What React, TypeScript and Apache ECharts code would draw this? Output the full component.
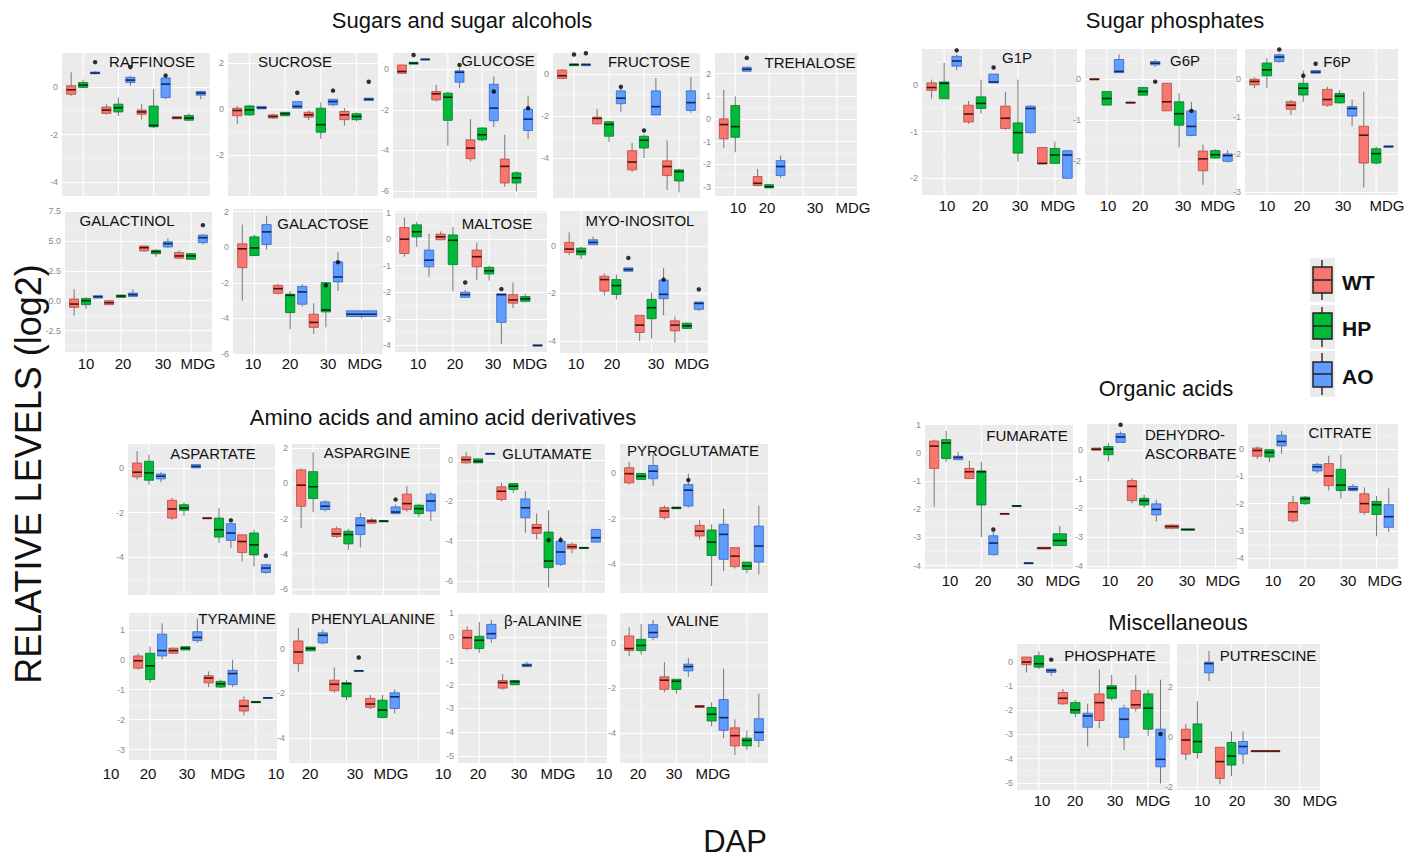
import React, { useEffect, useRef } from 'react';
import * as echarts from 'echarts';

type Box = number[] | null;

const GENOTYPES = ['WT', 'HP', 'AO'];
const STAGES = ['10', '20', '30', 'MDG'];
const COLORS = ['#F8766D', '#00BA38', '#619CFF'];
const BORDERS = ['#B24A43', '#00782A', '#3566C0'];
const MEDIANS = ['#4a1411', '#002a0c', '#13275a'];

// each metabolite: 12 boxes [low, q1, median, q3, high] ordered WT,HP,AO for 10,20,30,MDG
const raffinose: Box[] = [
  [-0.36, -0.29, -0.1, 0.07, 0.64], [-0.04, 0, 0.1, 0.21, 0.33], [0.56, 0.58, 0.61, 0.65, 0.68],
  [-1.15, -1.1, -0.96, -0.83, -0.71], [-1.21, -1.04, -0.86, -0.71, -0.43], [0.07, 0.21, 0.31, 0.43, 0.47],
  [-1.36, -1.14, -1.04, -0.96, -0.71], [-1.73, -1.67, -1.61, -0.79, -0.07], [-0.5, -0.43, 0.14, 0.4, 0.45],
  [-1.33, -1.33, -1.29, -1.24, -1.22], [-1.43, -1.39, -1.3, -1.19, -1.1], [-0.5, -0.33, -0.24, -0.17, -0.14],
];
const raffinoseOut = [[2, 1.07], [5, 0.86], [8, 0.5]];

const sucrose: Box[] = [
  [-0.64, -0.29, -0.06, 0.04, 0.14], [-0.29, -0.25, -0.03, 0.14, 0.19], [0.01, 0.01, 0.06, 0.12, 0.12],
  [-0.43, -0.39, -0.32, -0.25, -0.2], [-0.29, -0.29, -0.2, -0.14, -0.14], [0.04, 0.04, 0.12, 0.33, 0.33],
  [-0.49, -0.35, -0.25, -0.14, -0.06], [-1.3, -1.01, -0.68, 0.04, 0.29], [0.12, 0.19, 0.33, 0.43, 0.43],
  [-0.72, -0.46, -0.25, -0.1, 0.04], [-0.54, -0.46, -0.32, -0.2, -0.14], [0.36, 0.38, 0.43, 0.48, 0.48],
];
const sucroseOut = [[5, 0.72], [8, 0.81], [11, 1.2]];

const glucose: Box[] = [
  [-0.22, -0.2, -0.11, 0.21, 0.21], [0.24, 0.25, 0.3, 0.34, 0.36], [0.48, 0.48, 0.49, 0.5, 0.5],
  [-1.59, -1.51, -1.21, -1.1, -0.77], [-3.77, -2.52, -1.38, -1.18, -1.1], [-0.93, -0.64, -0.15, -0.08, 0.05],
  [-4.54, -4.41, -3.89, -3.48, -2.46], [-3.56, -3.48, -3.23, -2.9, -2.85], [-2.85, -2.54, -1.92, -0.74, -0.36],
  [-5.8, -5.61, -4.79, -4.43, -3.23], [-6.02, -5.61, -5.36, -5.11, -5.03], [-3.44, -3.02, -2.46, -1.97, -1.31],
];
const glucoseOut = [[1, 0.7], [5, 0.21], [8, -1.1], [11, -1.92]];

const fructose: Box[] = [
  [-0.25, -0.21, -0.08, 0.19, 0.22], [0.4, 0.4, 0.45, 0.48, 0.48], [0.4, 0.4, 0.45, 0.48, 0.48],
  [-2.4, -2.37, -2.11, -2.05, -1.65], [-3.23, -2.96, -2.4, -2.27, -2.24], [-1.79, -1.41, -1.15, -0.8, -0.7],
  [-4.67, -4.56, -4.19, -3.65, -3.28], [-4.0, -3.52, -3.15, -2.96, -2.88], [-1.95, -1.95, -1.55, -0.8, -0.19],
  [-5.52, -4.83, -4.4, -4.13, -3.17], [-5.63, -5.09, -4.64, -4.56, -4.51], [-1.84, -1.73, -1.36, -0.8, -0.13],
];
const fructoseOut = [[1, 0.93], [2, 0.99], [5, -0.61], [7, -2.69]];

const trehalose: Box[] = [
  [-1.28, -0.88, -0.25, 0, 1.28], [-1.47, -0.81, -0.34, 0.59, 0.99], [2.1, 2.1, 2.19, 2.28, 2.28],
  [-2.97, -2.94, -2.84, -2.54, -2.2], [-3.05, -3.04, -2.99, -2.9, -2.88], [-2.6, -2.5, -2.1, -1.84, -1.62],
  null, null, null,
  null, null, null,
];
const trehaloseOut = [[2, 2.69]];

const galactinol: Box[] = [
  [-1.25, -0.56, -0.28, 0.14, 0.97], [-0.69, -0.33, 0, 0.19, 0.28], [0.2, 0.22, 0.33, 0.42, 0.45],
  [-0.36, -0.33, -0.17, 0, 0.05], [0.26, 0.28, 0.39, 0.47, 0.5], [0.3, 0.36, 0.5, 0.64, 0.97],
  [4.1, 4.17, 4.44, 4.58, 4.6], [3.67, 3.94, 4.11, 4.22, 4.33], [4.44, 4.5, 4.78, 4.94, 5.22],
  [3.47, 3.56, 3.75, 4.03, 4.22], [3.45, 3.47, 3.75, 3.94, 3.97], [4.72, 4.86, 5.28, 5.5, 5.56],
];
const galactinolOut = [[11, 6.33]];

const galactose: Box[] = [
  [-3.01, -1.15, -0.09, 0.19, 1.27], [-0.5, -0.47, -0.04, 0.58, 0.7], [-0.13, 0.15, 0.86, 1.27, 1.77],
  [-2.65, -2.59, -2.33, -2.14, -2.05], [-4.6, -3.67, -2.7, -2.64, -2.46], [-3.33, -3.2, -2.51, -2.2, -2.07],
  [-4.87, -4.5, -4.22, -3.76, -3.14], [-4.5, -3.63, -3.52, -1.99, -1.99], [-2.46, -1.95, -1.67, -0.82, -0.28],
  null, null, [-4.0, -3.89, -3.76, -3.57, -3.57],
];
const galactoseOut = [[7, -2.14], [8, -0.84]];

const maltose: Box[] = [
  [-0.66, -0.54, 0, 0.44, 0.81], [-0.29, 0.09, 0.28, 0.54, 0.66], [-1.41, -1.04, -0.79, -0.41, 0.21],
  [-0.04, -0.02, 0.09, 0.19, 0.29], [-1.96, -0.96, -0.04, 0.16, 0.46], [-2.22, -2.19, -2.09, -2.0, -1.91],
  [-1.54, -1.04, -0.66, -0.41, -0.13], [-1.56, -1.31, -1.19, -1.06, -1.0], [-3.94, -3.13, -2.09, -2.06, -2.06],
  [-2.59, -2.41, -2.29, -2.09, -1.63], [-2.38, -2.34, -2.25, -2.16, -2.06], [-4.01, -4.01, -4.0, -3.99, -3.99],
];
const maltoseOut = [[5, -1.63], [8, -1.88]];

const myoInositol: Box[] = [
  [-0.38, -0.28, -0.14, 0.14, 0.56], [-0.56, -0.38, -0.24, -0.1, -0.03], [0.04, 0.04, 0.14, 0.25, 0.39],
  [-2.08, -1.9, -1.42, -1.28, -1.17], [-2.25, -2.04, -1.67, -1.42, -1.21], [-1.1, -1.07, -1.0, -0.93, -0.93],
  [-3.99, -3.64, -3.33, -2.92, -2.92], [-3.89, -3.06, -2.6, -2.25, -1.97], [-2.92, -2.22, -2.04, -1.44, -0.93],
  [-4.06, -3.57, -3.33, -3.15, -2.97], [-3.5, -3.47, -3.36, -3.25, -3.22], [-2.74, -2.67, -2.42, -2.36, -2.36],
];
const myoInositolOut = [[5, -0.51], [8, -1.42], [11, -1.83]];

const g1p: Box[] = [
  [-0.29, -0.11, -0.05, 0.05, 0.12], [-0.29, -0.29, 0.04, 0.07, 0.48], [0.32, 0.41, 0.52, 0.62, 0.66],
  [-0.83, -0.79, -0.62, -0.43, -0.34], [-0.61, -0.5, -0.39, -0.25, 0.12], [0.05, 0.05, 0.07, 0.24, 0.24],
  [-0.96, -0.93, -0.71, -0.45, -0.14], [-1.64, -1.46, -1.02, -0.81, 0.12], [-1.04, -1.02, -0.5, -0.45, -0.43],
  [-1.7, -1.69, -1.68, -1.34, -1.34], [-1.68, -1.68, -1.5, -1.36, -1.21], [-2.02, -2.0, -1.5, -1.41, -1.39],
];
const g1pOut = [[2, 0.75], [5, 0.38]];

const g6p: Box[] = [
  [-0.02, -0.02, 0, 0.01, 0.01], [-0.63, -0.63, -0.47, -0.3, -0.3], [0.16, 0.16, 0.19, 0.48, 0.6],
  [-0.58, -0.58, -0.57, -0.56, -0.56], [-0.39, -0.39, -0.3, -0.2, -0.2], [0.3, 0.35, 0.39, 0.43, 0.48],
  [-0.77, -0.77, -0.55, -0.1, -0.1], [-1.66, -1.12, -0.84, -0.55, -0.34], [-1.39, -1.37, -1.15, -0.77, -0.55],
  [-2.57, -2.23, -1.94, -1.75, -1.59], [-1.94, -1.92, -1.84, -1.74, -1.7], [-2.03, -2.0, -1.86, -1.82, -1.73],
];
const g6pOut = [[5, -0.06], [8, -0.77]];

const f6p: Box[] = [
  [-0.24, -0.15, -0.06, 0, 0.05], [-0.24, 0.09, 0.25, 0.43, 0.56], [0.44, 0.47, 0.59, 0.65, 0.68],
  [-0.95, -0.8, -0.69, -0.6, -0.55], [-0.6, -0.42, -0.24, -0.11, 0.23], [0.16, 0.16, 0.19, 0.23, 0.23],
  [-0.73, -0.69, -0.54, -0.27, -0.2], [-0.65, -0.63, -0.45, -0.38, -0.29], [-1.25, -0.98, -0.78, -0.73, -0.54],
  [-2.88, -2.23, -1.49, -1.25, -0.33], [-2.27, -2.23, -1.98, -1.85, -1.79], [-1.8, -1.8, -1.79, -1.78, -1.78],
];
const f6pOut = [[2, 0.79], [4, 0.09], [5, 0.41]];

const aspartate: Box[] = [
  [-0.52, -0.4, -0.19, 0.22, 0.75], [-0.75, -0.55, -0.22, 0.3, 0.6], [-0.64, -0.49, -0.37, -0.27, -0.19],
  [-2.33, -2.25, -1.84, -1.45, -1.34], [-2.15, -1.9, -1.8, -1.65, -1.54], [0.0, 0.0, 0.07, 0.15, 0.15],
  [-2.27, -2.26, -2.25, -2.24, -2.23], [-3.37, -3.1, -2.77, -2.25, -1.8], [-3.6, -3.25, -2.92, -2.5, -2.5],
  [-4.19, -3.79, -3.3, -3.0, -3.0], [-4.42, -3.9, -3.45, -2.92, -2.77], [-4.75, -4.69, -4.49, -4.34, -4.3],
];
const aspartateOut = [[8, -2.35], [11, -3.94]];

const aspargine: Box[] = [
  [-2.53, -1.3, -0.1, 0.77, 0.85], [-1.63, -0.86, -0.19, 0.67, 1.76], [-1.6, -1.49, -1.3, -1.05, -0.95],
  [-3.1, -3.02, -2.87, -2.58, -2.45], [-3.78, -3.44, -2.91, -2.72, -2.58], [-3.64, -2.91, -2.39, -1.95, -1.68],
  [-2.3, -2.26, -2.14, -2.07, -1.95], [-2.16, -2.15, -2.14, -2.13, -2.12], [-1.72, -1.72, -1.63, -1.34, -1.2],
  [-1.6, -1.49, -1.15, -0.61, -0.15], [-1.92, -1.72, -1.44, -1.24, -1.15], [-2.14, -1.57, -1.0, -0.61, -0.48],
];
const asparginOut = [[8, -0.92]];

const glutamate: Box[] = [
  [-0.17, -0.13, 0.03, 0.17, 0.4], [-0.13, -0.13, -0.05, 0.07, 0.07], [0.32, 0.32, 0.33, 0.34, 0.34],
  [-2.05, -1.95, -1.54, -1.32, -1.12], [-1.62, -1.45, -1.29, -1.16, -1.16], [-3.6, -2.86, -2.36, -1.92, -1.54],
  [-3.93, -3.64, -3.36, -3.19, -2.64], [-6.33, -5.34, -5.01, -3.57, -2.48], [-5.25, -5.17, -4.56, -4.02, -3.8],
  [-4.62, -4.4, -4.3, -4.18, -4.1], [-4.36, -4.36, -4.35, -4.34, -4.34], [-4.07, -4.07, -3.85, -3.44, -3.44],
];
const glutamateOut = [[7, -3.97], [8, -3.97]];

const pyroglutamate: Box[] = [
  [-0.51, -0.44, -0.04, 0.22, 0.47], [-0.29, -0.29, -0.15, -0.03, -0.03], [-0.58, -0.26, 0.07, 0.32, 0.8],
  [-2.04, -1.96, -1.67, -1.52, -1.42], [-1.57, -1.57, -1.53, -1.5, -1.5], [-1.52, -1.45, -0.76, -0.51, -0.03],
  [-2.91, -2.76, -2.55, -2.3, -2.07], [-4.95, -3.61, -3.03, -2.5, -2.25], [-4.29, -3.78, -2.69, -2.25, -1.57],
  [-4.18, -4.1, -3.64, -3.27, -3.27], [-4.39, -4.22, -4.07, -3.9, -3.9], [-4.44, -3.9, -3.2, -2.33, -1.43],
];
const pyroglutamateOut = [[5, -0.32]];

const tyramine: Box[] = [
  [-0.33, -0.28, -0.03, 0.13, 0.22], [-0.77, -0.66, -0.2, 0.22, 0.44], [0.02, 0.13, 0.31, 0.86, 1.22],
  [0.22, 0.22, 0.31, 0.39, 0.41], [0.33, 0.33, 0.39, 0.44, 0.44], [0.57, 0.64, 0.75, 0.94, 1.38],
  [-0.91, -0.77, -0.61, -0.53, -0.39], [-0.94, -0.91, -0.8, -0.72, -0.66], [-0.91, -0.83, -0.46, -0.35, 0],
  [-1.86, -1.71, -1.55, -1.35, -1.22], [-1.42, -1.42, -1.41, -1.4, -1.4], [-1.28, -1.28, -1.27, -1.26, -1.26],
];
const tyramineOut: number[][] = [];

const phenylalanine: Box[] = [
  [-1.04, -0.67, -0.15, 0.34, 0.93], [-0.1, -0.1, 0, 0.07, 0.07], [0.19, 0.25, 0.59, 0.7, 0.84],
  [-1.97, -1.88, -1.59, -1.41, -0.84], [-2.3, -2.15, -1.56, -1.53, -1.41], [-1.0, -1.0, -0.99, -0.98, -0.98],
  [-2.7, -2.62, -2.47, -2.22, -2.07], [-3.11, -3.07, -2.74, -2.3, -2.07], [-2.89, -2.67, -2.15, -1.97, -1.82],
  null, null, null,
];
const phenylalanineOut = [[5, -0.4]];

const betaAlanine: Box[] = [
  [-0.56, -0.49, -0.03, 0.28, 0.44], [-0.67, -0.49, -0.14, 0.03, 0.63], [-0.25, -0.07, 0.14, 0.53, 0.72],
  [-2.22, -2.15, -1.92, -1.83, -1.56], [-2.01, -2.01, -1.88, -1.83, -1.83], [-1.25, -1.25, -1.19, -1.14, -1.04],
  null, null, null,
  null, null, null,
];
const betaAlanineOut: number[][] = [];

const valine: Box[] = [
  [-0.6, -0.35, -0.26, 0.3, 0.68], [-0.53, -0.35, -0.12, 0.15, 0.83], [0.1, 0.23, 0.45, 0.8, 1.01],
  [-2.19, -2.07, -1.66, -1.51, -0.86], [-2.26, -2.07, -1.71, -1.62, -1.62], [-1.51, -1.25, -1.06, -0.95, -0.68],
  [-2.87, -2.87, -2.82, -2.79, -2.79], [-3.7, -3.47, -3.17, -2.87, -2.64], [-4.23, -3.88, -3.32, -2.52, -1.16],
  [-4.98, -4.57, -4.12, -3.77, -3.4], [-4.75, -4.57, -4.33, -4.23, -3.89], [-4.63, -4.33, -3.97, -3.37, -2.26],
];
const valineOut: number[][] = [];

const fumarate: Box[] = [
  [-1.91, -0.55, 0.24, 0.42, 0.47], [-0.32, -0.2, 0.35, 0.47, 0.78], [-0.26, -0.24, -0.16, -0.12, 0.04],
  [-0.91, -0.91, -0.67, -0.55, -0.28], [-2.99, -1.85, -0.67, -0.64, -0.32], [-3.65, -3.61, -3.2, -2.94, -2.79],
  [-2.17, -2.17, -2.16, -2.15, -2.15], [-1.89, -1.89, -1.88, -1.87, -1.87], [-3.92, -3.92, -3.91, -3.9, -3.9],
  [-3.41, -3.41, -3.38, -3.35, -3.35], [-3.29, -3.29, -3.11, -2.87, -2.59], null,
];
const fumarateOut = [[5, -2.72]];

const dehydroascorbate: Box[] = [
  [-0.02, -0.02, 0.02, 0.06, 0.06], [-0.4, -0.17, 0.02, 0.11, 0.23], [0.25, 0.25, 0.44, 0.55, 0.63],
  [-1.84, -1.75, -1.26, -1.06, -0.98], [-2.0, -1.9, -1.75, -1.67, -1.55], [-2.47, -2.24, -2.05, -1.86, -1.72],
  [-2.73, -2.7, -2.64, -2.59, -2.56], [-2.75, -2.75, -2.74, -2.73, -2.73], null,
  null, null, null,
];
const dehydroascorbateOut = [[2, 0.86]];

const citrate: Box[] = [
  [-0.36, -0.26, -0.05, 0.04, 0.1], [-0.48, -0.29, -0.12, -0.02, -0.02], [-0.17, 0.12, 0.28, 0.51, 0.67],
  [-2.7, -2.63, -2.3, -1.96, -1.72], [-2.06, -2.0, -1.82, -1.76, -1.72], [-0.89, -0.8, -0.65, -0.56, -0.5],
  [-1.52, -1.34, -0.98, -0.53, -0.24], [-1.82, -1.52, -1.32, -0.74, -0.2], [-1.55, -1.52, -1.46, -1.37, -1.28],
  [-2.4, -2.32, -2.0, -1.64, -1.4], [-3.2, -2.4, -2.04, -1.92, -1.72], [-3.04, -2.87, -2.48, -2.04, -1.44],
];
const citrateOut: number[][] = [];

const phosphate: Box[] = [
  [-0.43, -0.11, 0, 0.21, 0.21], [-0.29, -0.21, -0.07, 0.26, 0.44], [-0.57, -0.43, -0.35, -0.29, -0.29],
  [-1.77, -1.73, -1.5, -1.26, -1.12], [-2.29, -2.12, -1.98, -1.68, -1.57], [-3.5, -2.7, -2.23, -2.12, -1.73],
  [-2.74, -2.42, -1.68, -1.32, -0.32], [-1.6, -1.5, -1.08, -0.98, -0.53], [-3.64, -3.12, -2.37, -1.91, -1.77],
  [-2.05, -1.91, -1.77, -1.18, -0.53], [-3.06, -2.78, -1.91, -1.32, -1.15], [-5.03, -4.34, -4.03, -2.78, -0.73],
];
const phosphateOut = [[2, 0.1], [11, -2.98]];

const putrescine: Box[] = [
  [-0.91, -0.67, -0.11, 0.32, 0.53], [-0.84, -0.61, -0.17, 0.53, 1.43], [2.23, 2.56, 2.93, 2.99, 3.43],
  [-1.87, -1.64, -0.97, -0.4, -0.4], [-1.55, -1.11, -0.75, -0.21, 0.23], [-1.07, -0.67, -0.37, -0.17, 0.23],
  [-0.56, -0.56, -0.55, -0.54, -0.54], null, null,
  null, null, null,
];
const putrescineOut: number[][] = [];

// ---- layout (pixel positions of panels, titles, labels) ----
const FONT = "'Liberation Sans', Arial, sans-serif";

const PANELS = [
  { title: ['RAFFINOSE'], boxes: raffinose, out: raffinoseOut, rect: [62, 52, 210, 196], yr: [-4.6, 1.5], step: 2, t: [152, 61] },
  { title: ['SUCROSE'], boxes: sucrose, out: sucroseOut, rect: [228, 52, 378, 196], yr: [-3.8, 2.5], step: 2, t: [295, 61] },
  { title: ['GLUCOSE'], boxes: glucose, out: glucoseOut, rect: [393, 52, 537, 198], yr: [-6.35, 0.85], step: 2, t: [498, 60] },
  { title: ['FRUCTOSE'], boxes: fructose, out: fructoseOut, rect: [553, 52, 700, 198], yr: [-5.9, 1.05], step: 2, t: [649, 61] },
  { title: ['TREHALOSE'], boxes: trehalose, out: trehaloseOut, rect: [715, 52, 857, 196], yr: [-3.4, 2.95], step: 1, t: [810, 62] },
  { title: ['GALACTINOL'], boxes: galactinol, out: galactinolOut, rect: [65, 210, 212, 352], yr: [-4.3, 7.6], step: 2.5, t: [127, 220] },
  { title: ['GALACTOSE'], boxes: galactose, out: galactoseOut, rect: [233, 208, 383, 355], yr: [-6.05, 2.2], step: 2, t: [323, 223] },
  { title: ['MALTOSE'], boxes: maltose, out: maltoseOut, rect: [395, 210, 547, 352], yr: [-4.25, 1.1], step: 1, t: [497, 223] },
  { title: ['MYO-INOSITOL'], boxes: myoInositol, out: myoInositolOut, rect: [560, 210, 708, 353], yr: [-4.5, 1.5], step: 2, t: [640, 220] },
  { title: ['G1P'], boxes: g1p, out: g1pOut, rect: [922, 48, 1077, 195], yr: [-2.36, 0.8], step: 1, t: [1017, 57] },
  { title: ['G6P'], boxes: g6p, out: g6pOut, rect: [1085, 48, 1237, 195], yr: [-2.82, 0.76], step: 1, t: [1185, 60] },
  { title: ['F6P'], boxes: f6p, out: f6pOut, rect: [1245, 48, 1398, 195], yr: [-3.08, 0.83], step: 1, t: [1337, 61] },
  { title: ['ASPARTATE'], boxes: aspartate, out: aspartateOut, rect: [128, 443, 275, 595], yr: [-5.7, 1.12], step: 2, t: [213, 453] },
  { title: ['ASPARGINE'], boxes: aspargine, out: asparginOut, rect: [292, 443, 440, 595], yr: [-6.35, 2.3], step: 2, t: [367, 452] },
  { title: ['GLUTAMATE'], boxes: glutamate, out: glutamateOut, rect: [457, 443, 605, 593], yr: [-6.6, 0.86], step: 2, t: [547, 453] },
  { title: ['PYROGLUTAMATE'], boxes: pyroglutamate, out: pyroglutamateOut, rect: [620, 443, 768, 593], yr: [-5.25, 1.3], step: 2, t: [693, 450] },
  { title: ['TYRAMINE'], boxes: tyramine, out: tyramineOut, rect: [129, 612, 277, 760], yr: [-3.35, 1.6], step: 1, t: [237, 618] },
  { title: ['PHENYLALANINE'], boxes: phenylalanine, out: phenylalanineOut, rect: [289, 612, 440, 763], yr: [-5.1, 1.63], step: 2, t: [373, 618] },
  { title: ['β-ALANINE'], boxes: betaAlanine, out: betaAlanineOut, rect: [458, 612, 607, 763], yr: [-5.3, 1.05], step: 1, t: [543, 620] },
  { title: ['VALINE'], boxes: valine, out: valineOut, rect: [620, 612, 768, 763], yr: [-5.33, 1.36], step: 2, t: [693, 620] },
  { title: ['FUMARATE'], boxes: fumarate, out: fumarateOut, rect: [925, 423, 1073, 569], yr: [-4.12, 1.06], step: 1, t: [1027, 435] },
  { title: ['DEHYDRO-', 'ASCORBATE'], boxes: dehydroascorbate, out: dehydroascorbateOut, rect: [1087, 423, 1237, 569], yr: [-4.1, 0.92], step: 1, t: [1190, 434] },
  { title: ['CITRATE'], boxes: citrate, out: citrateOut, rect: [1248, 423, 1398, 569], yr: [-4.4, 0.96], step: 1, t: [1340, 432] },
  { title: ['PHOSPHATE'], boxes: phosphate, out: phosphateOut, rect: [1017, 643, 1170, 790], yr: [-5.3, 0.79], step: 1, t: [1110, 655] },
  { title: ['PUTRESCINE'], boxes: putrescine, out: putrescineOut, rect: [1177, 643, 1320, 790], yr: [-2.1, 3.75], step: 2, t: [1268, 655] },
];

const XLABEL_ROWS = [
  { y: 207, xs: [738, 767, 815, 853] },
  { y: 363, xs: [86, 123, 163, 198] },
  { y: 363, xs: [253, 290, 328, 365] },
  { y: 363, xs: [418, 455, 493, 530] },
  { y: 363, xs: [576, 612, 656, 692] },
  { y: 205, xs: [947, 980, 1020, 1058] },
  { y: 205, xs: [1108, 1140, 1183, 1218] },
  { y: 205, xs: [1267, 1302, 1343, 1387] },
  { y: 773, xs: [111, 148, 187, 228] },
  { y: 773, xs: [276, 310, 355, 391] },
  { y: 773, xs: [443, 478, 519, 558] },
  { y: 773, xs: [604, 638, 674, 713] },
  { y: 580, xs: [950, 983, 1025, 1063] },
  { y: 580, xs: [1110, 1145, 1187, 1223] },
  { y: 580, xs: [1273, 1307, 1348, 1385] },
  { y: 800, xs: [1042, 1075, 1115, 1153] },
  { y: 800, xs: [1202, 1237, 1282, 1320] },
];

const SECTIONS = [
  { text: 'Sugars and sugar alcohols', x: 462, y: 20 },
  { text: 'Sugar phosphates', x: 1175, y: 20 },
  { text: 'Amino acids and amino acid derivatives', x: 443, y: 417 },
  { text: 'Organic acids', x: 1166, y: 388 },
  { text: 'Miscellaneous', x: 1178, y: 622 },
];

const LEGEND_POS = [
  { top: 260, q3: 267, med: 280, q1: 293, bottom: 300, ty: 282 },
  { top: 307, q3: 313, med: 326, q1: 339, bottom: 347, ty: 328 },
  { top: 353, q3: 362, med: 374, q1: 387, bottom: 395, ty: 376 },
];

function slotPositions(boxes: Box[]) {
  const pos: { x: number; w: number }[] = [];
  for (let g = 0; g < 4; g++) {
    const present = [0, 1, 2].filter((k) => boxes[g * 3 + k]);
    const n = present.length;
    present.forEach((k, i) => {
      let off = 0;
      let w = 0.85;
      if (n === 3) { off = (i - 1) * 0.34; w = 0.26; }
      else if (n === 2) { off = (i - 0.5) * 0.45; w = 0.38; }
      pos[g * 3 + k] = { x: g + 1 + off, w };
    });
    [0, 1, 2].forEach((k) => {
      if (!pos[g * 3 + k]) pos[g * 3 + k] = { x: g + 1 + (k - 1) * 0.34, w: 0.26 };
    });
  }
  return pos;
}

const renderBox = (params: any, api: any) => {
  const x = api.value(0);
  const k = api.value(6);
  const w = api.value(7);
  const pLow = api.coord([x, api.value(1)]);
  const pQ1 = api.coord([x, api.value(2)]);
  const pMed = api.coord([x, api.value(3)]);
  const pQ3 = api.coord([x, api.value(4)]);
  const pHigh = api.coord([x, api.value(5)]);
  const hw = api.size([w, 0])[0] / 2;
  const cx = pMed[0];
  return {
    type: 'group',
    children: [
      { type: 'line', shape: { x1: cx, y1: pHigh[1], x2: cx, y2: pQ3[1] }, style: { stroke: '#777', lineWidth: 1 } },
      { type: 'line', shape: { x1: cx, y1: pQ1[1], x2: cx, y2: pLow[1] }, style: { stroke: '#777', lineWidth: 1 } },
      {
        type: 'rect',
        shape: { x: cx - hw, y: pQ3[1], width: 2 * hw, height: Math.max(pQ1[1] - pQ3[1], 1) },
        style: { fill: COLORS[k], stroke: BORDERS[k], lineWidth: 0.8 },
      },
      { type: 'line', shape: { x1: cx - hw, y1: pMed[1], x2: cx + hw, y2: pMed[1] }, style: { stroke: MEDIANS[k], lineWidth: 1.6 } },
    ],
  };
};

// vertical major grid lines at the stage positions
const renderVLine = (params: any, api: any) => {
  const cs = params.coordSys;
  const x = api.coord([api.value(0), 0])[0];
  return { type: 'line', shape: { x1: x, y1: cs.y, x2: x, y2: cs.y + cs.height }, style: { stroke: '#ffffff', lineWidth: 1.1 } };
};

// faint horizontal minor grid lines (half way between y ticks)
const renderHMinor = (params: any, api: any) => {
  const cs = params.coordSys;
  const y = api.coord([1, api.value(1)])[1];
  return { type: 'line', shape: { x1: cs.x, y1: y, x2: cs.x + cs.width, y2: y }, style: { stroke: '#F6F6F6', lineWidth: 0.6 } };
};

function buildOption() {
  const grid: any[] = [];
  const xAxis: any[] = [];
  const yAxis: any[] = [];
  const series: any[] = [];
  const graphic: any[] = [];

  PANELS.forEach((p, i) => {
    const [x0, y0, x1, y1] = p.rect;
    grid.push({ left: x0, top: y0, width: x1 - x0, height: y1 - y0, show: true, backgroundColor: '#EBEBEB', borderWidth: 0 });
    xAxis.push({ type: 'value', gridIndex: i, min: 0.4, max: 4.6, show: false });
    const step = p.step;
    yAxis.push({
      type: 'value', gridIndex: i, min: p.yr[0], max: p.yr[1], minInterval: step, maxInterval: step, splitNumber: 4,
      axisLine: { show: false }, axisTick: { show: false },
      splitLine: { show: true, lineStyle: { color: '#ffffff', width: 1.1 } },
      axisLabel: {
        fontSize: 9, color: '#8a8a8a', margin: 4, fontFamily: FONT,
        formatter: (v: number) => {
          const r = v / step;
          if (Math.abs(r - Math.round(r)) > 1e-6) return '';
          return step % 1 === 0 ? String(Math.round(v)) : v.toFixed(1);
        },
      },
    });
    const minors: number[][] = [];
    for (let m = Math.ceil(p.yr[0] / step - 0.5) + 0.5; m * step < p.yr[1]; m += 1) {
      if (m * step > p.yr[0]) minors.push([1, m * step]);
    }
    const pos = slotPositions(p.boxes);
    const items: any[] = [];
    p.boxes.forEach((b, s) => {
      if (!b) return;
      items.push([pos[s].x, b[0], b[1], b[2], b[3], b[4], s % 3, pos[s].w]);
    });
    series.push({
      type: 'custom', xAxisIndex: i, yAxisIndex: i, z: 1, silent: true, clip: false,
      renderItem: renderHMinor, data: minors, encode: { x: 0, y: 1 },
    });
    series.push({
      type: 'custom', xAxisIndex: i, yAxisIndex: i, z: 1, silent: true, clip: false,
      renderItem: renderVLine, data: STAGES.map((_, g) => [g + 1, 0]), encode: { x: 0, y: 1 },
    });
    series.push({
      type: 'custom', xAxisIndex: i, yAxisIndex: i, z: 3, silent: true, clip: false,
      renderItem: renderBox, data: items, encode: { x: 0, y: [1, 2, 3, 4, 5] },
    });
    series.push({
      type: 'scatter', xAxisIndex: i, yAxisIndex: i, z: 4, silent: true, symbolSize: 4.5,
      itemStyle: { color: '#000' }, data: p.out.map((o) => [pos[o[0]].x, o[1]]),
    });
    if (p.title.length === 1) {
      graphic.push({ type: 'text', x: p.t[0], y: p.t[1], z: 10, style: { text: p.title[0], font: `15px ${FONT}`, fill: '#111', textAlign: 'center', textVerticalAlign: 'middle' } });
    } else {
      p.title.forEach((tt, j) => {
        graphic.push({ type: 'text', x: 1145, y: p.t[1] + j * 19, z: 10, style: { text: tt, font: `15px ${FONT}`, fill: '#111', textAlign: 'left', textVerticalAlign: 'middle' } });
      });
    }
  });

  XLABEL_ROWS.forEach((row) => {
    row.xs.forEach((x, j) => {
      graphic.push({ type: 'text', x, y: row.y, style: { text: STAGES[j], font: `15px ${FONT}`, fill: '#111', textAlign: 'center', textVerticalAlign: 'middle' } });
    });
  });

  SECTIONS.forEach((s) => {
    graphic.push({ type: 'text', x: s.x, y: s.y, style: { text: s.text, font: `22px ${FONT}`, fill: '#111', textAlign: 'center', textVerticalAlign: 'middle' } });
  });

  graphic.push({ type: 'text', x: 28, y: 474, rotation: Math.PI / 2, style: { text: 'RELATIVE LEVELS (log2)', font: `36px ${FONT}`, fill: '#111', textAlign: 'center', textVerticalAlign: 'middle' } });
  graphic.push({ type: 'text', x: 735, y: 841, style: { text: 'DAP', font: `31px ${FONT}`, fill: '#111', textAlign: 'center', textVerticalAlign: 'middle' } });

  LEGEND_POS.forEach((L, k) => {
    graphic.push({ type: 'rect', shape: { x: 1310, y: L.top - 2, width: 25, height: L.bottom - L.top + 4 }, style: { fill: '#EBEBEB' } });
    graphic.push({ type: 'line', shape: { x1: 1322, y1: L.top, x2: 1322, y2: L.bottom }, style: { stroke: '#333', lineWidth: 1.5 } });
    graphic.push({ type: 'rect', shape: { x: 1313, y: L.q3, width: 19, height: L.q1 - L.q3 }, style: { fill: COLORS[k], stroke: '#222', lineWidth: 1.5 } });
    graphic.push({ type: 'line', shape: { x1: 1313, y1: L.med, x2: 1332, y2: L.med }, style: { stroke: '#222', lineWidth: 1.5 } });
    graphic.push({ type: 'text', x: 1342, y: L.ty, style: { text: GENOTYPES[k], font: `bold 21px ${FONT}`, fill: '#111', textAlign: 'left', textVerticalAlign: 'middle' } });
  });

  return { animation: false, backgroundColor: '#ffffff', grid, xAxis, yAxis, series, graphic: { elements: graphic } };
}

export default function App() {
  const ref = useRef<HTMLDivElement>(null);
  useEffect(() => {
    document.body.style.margin = '0';
    if (!ref.current) return;
    const chart = echarts.init(ref.current, undefined, { renderer: 'svg' });
    chart.setOption(buildOption() as any);
    return () => chart.dispose();
  }, []);
  return <div ref={ref} style={{ width: 1414, height: 861 }} />;
}
